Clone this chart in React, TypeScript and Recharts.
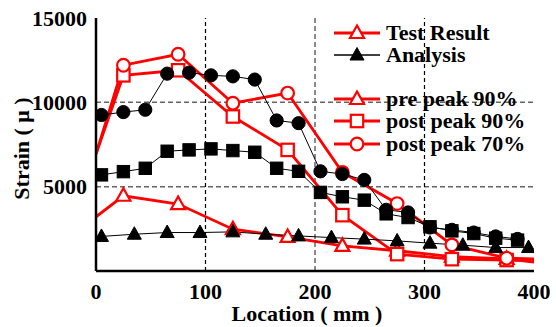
import { ComposedChart, Line, XAxis, YAxis, ReferenceLine } from 'recharts'

const FONT = '"Liberation Serif", "Times New Roman", serif'
const RED = '#ff0000'

// Analysis (black), location in mm
const anX = [5, 25, 45, 65, 85, 105, 125, 145, 165, 185, 205, 225, 245, 265, 285, 305, 325, 345, 365, 385]
const anCircle = [9250, 9420, 9560, 11700, 11760, 11600, 11540, 11350, 8925, 8765, 5910, 5750, 5400, 3630, 3470, 2580, 2440, 2280, 2050, 1900]
const anSquare = [5700, 5890, 6090, 7100, 7180, 7240, 7140, 7040, 6090, 5910, 4660, 4400, 4200, 3390, 3170, 2620, 2380, 2220, 1945, 1830]
const anTriX = [5, 35, 65, 95, 125, 155, 185, 215, 245, 275, 305, 335, 365, 395]
const anTri = [2050, 2180, 2280, 2280, 2320, 2180, 2080, 1980, 1890, 1785, 1650, 1530, 1390, 1390]

// Test result (red); first and last points have no marker
const testX = [0, 25, 75, 125, 175, 225, 275, 325, 375, 400]
const pre90 = [3210, 4460, 3970, 2480, 2020, 1490, 1200, 850, 720, 520]
const post90 = [6940, 11600, 11900, 9160, 7180, 3310, 1000, 700, 650, 620]
const post70 = [6940, 12200, 12850, 9950, 10550, 5850, 4000, 1550, 760, 720]

const xTicks = [0, 100, 200, 300, 400]
const yTicks = [5000, 10000, 15000]

const pts = (xs: number[], ys: number[]) => xs.map((x, i) => ({ x, y: ys[i] }))

type Kind = 'circle' | 'square' | 'triangle'

function Shape({ kind, cx, cy, color, filled }: { kind: Kind; cx: number; cy: number; color: string; filled: boolean }) {
  const fill = filled ? color : '#fff'
  const sw = filled ? 1 : 2.2
  if (kind === 'circle') return <circle cx={cx} cy={cy} r={filled ? 6.6 : 6.3} fill={fill} stroke={color} strokeWidth={sw} />
  if (kind === 'square') return <rect x={cx - 6.2} y={cy - 6.2} width={12.4} height={12.4} fill={fill} stroke={color} strokeWidth={sw} />
  return <polygon points={`${cx},${cy - 7.5} ${cx - 7},${cy + 5} ${cx + 7},${cy + 5}`} fill={fill} stroke={color} strokeWidth={sw} />
}

const marker = (kind: Kind, color: string, filled: boolean, skipEnds = false) => (p: any) => {
  const { cx, cy, index, payload } = p
  if (skipEnds && (payload.x === 0 || payload.x === 400)) return <g key={index} />
  return <Shape key={index} kind={kind} cx={cx} cy={cy} color={color} filled={filled} />
}

const legendRows: { y: number; kind: Kind; color: string; filled: boolean; text: string }[] = [
  { y: 33, kind: 'triangle', color: RED, filled: false, text: 'Test Result' },
  { y: 55, kind: 'triangle', color: '#000', filled: true, text: 'Analysis' },
  { y: 99, kind: 'triangle', color: RED, filled: false, text: 'pre peak 90%' },
  { y: 121, kind: 'square', color: RED, filled: false, text: 'post peak 90%' },
  { y: 144, kind: 'circle', color: RED, filled: false, text: 'post peak 70%' },
]

const tickStyle = { fontSize: 22, fontWeight: 'bold' as const, fill: '#000', fontFamily: FONT }

export default function App() {
  return (
    <div style={{ position: 'absolute', left: 0, top: 0, width: 556, height: 327, background: '#fff' }}>
      <ComposedChart width={556} height={327} margin={{ top: 18, right: 22, left: 0, bottom: 0 }}>
        <XAxis
          dataKey="x" type="number" domain={[0, 400]} ticks={xTicks} height={56}
          axisLine={{ stroke: '#000', strokeWidth: 2.5 }} tickLine={false} tickMargin={6}
          tick={tickStyle} allowDataOverflow
          label={{ value: 'Location ( mm )', position: 'insideBottom', offset: 6, dx: -8, style: { ...tickStyle } }}
        />
        <XAxis xAxisId="top" orientation="top" type="number" domain={[0, 400]} height={0} tick={false} tickLine={false}
          axisLine={{ stroke: '#000', strokeWidth: 2.5 }} />
        <YAxis
          type="number" domain={[0, 15000]} ticks={yTicks} width={96}
          axisLine={{ stroke: '#000', strokeWidth: 2.5 }} tickLine={false} tickMargin={3}
          tick={tickStyle}
          label={{ value: 'Strain ( μ )', angle: -90, position: 'insideLeft', offset: 21, dy: 4, style: { ...tickStyle, textAnchor: 'middle' } }}
        />
        <YAxis yAxisId="right" orientation="right" type="number" domain={[0, 15000]} width={0} tick={false} tickLine={false}
          axisLine={{ stroke: '#000', strokeWidth: 2.5 }} />

        <ReferenceLine y={5000} stroke="#666" strokeWidth={1.5} strokeDasharray="5 3" />
        <ReferenceLine y={10000} stroke="#666" strokeWidth={1.5} strokeDasharray="5 3" />
        <ReferenceLine x={100} stroke="#000" strokeWidth={1.2} strokeDasharray="4 3" />
        <ReferenceLine x={200} stroke="#666" strokeWidth={1.5} strokeDasharray="5 3" />
        <ReferenceLine x={300} stroke="#000" strokeWidth={1.2} strokeDasharray="4 3" />

        <Line data={pts(testX, pre90)} dataKey="y" type="linear" stroke={RED} strokeWidth={2.8}
          dot={marker('triangle', RED, false, true)} isAnimationActive={false} />
        <Line data={pts(testX, post90)} dataKey="y" type="linear" stroke={RED} strokeWidth={2.8}
          dot={marker('square', RED, false, true)} isAnimationActive={false} />
        <Line data={pts(testX, post70)} dataKey="y" type="linear" stroke={RED} strokeWidth={2.8}
          dot={marker('circle', RED, false, true)} isAnimationActive={false} />

        <Line data={pts(anTriX, anTri)} dataKey="y" type="linear" stroke="#000" strokeWidth={1}
          dot={marker('triangle', '#000', true)} isAnimationActive={false} />
        <Line data={pts(anX, anSquare)} dataKey="y" type="linear" stroke="#000" strokeWidth={1}
          dot={marker('square', '#000', true)} isAnimationActive={false} />
        <Line data={pts(anX, anCircle)} dataKey="y" type="linear" stroke="#000" strokeWidth={1}
          dot={marker('circle', '#000', true)} isAnimationActive={false} />
      </ComposedChart>

      <svg width={556} height={327} style={{ position: 'absolute', left: 0, top: 0, pointerEvents: 'none' }}>
        {legendRows.map(r => (
          <g key={r.text}>
            <line x1={334} x2={380} y1={r.y} y2={r.y} stroke={r.color} strokeWidth={r.color === RED ? 2.8 : 1.5} />
            <Shape kind={r.kind} cx={357} cy={r.y} color={r.color} filled={r.filled} />
            <text x={386} y={r.y + 7} fontSize={22} fontWeight="bold" fontFamily={FONT} fill="#000">{r.text}</text>
          </g>
        ))}
      </svg>
    </div>
  )
}
